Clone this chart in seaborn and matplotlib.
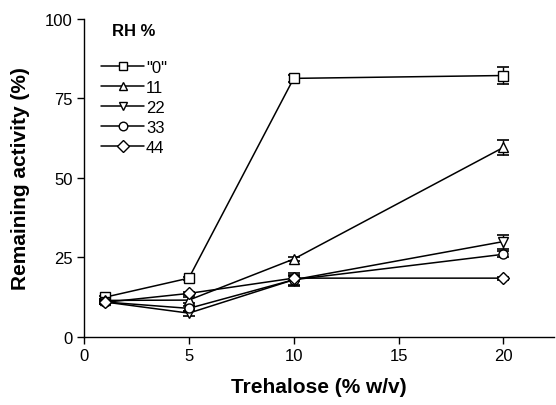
import pandas as pd
import numpy as np
import matplotlib.pyplot as plt
import seaborn as sns

sns.set_style("ticks")
plt.rcParams["font.family"] = ["Liberation Sans", "DejaVu Sans"]
plt.rcParams["text.color"] = "black"
plt.rcParams["axes.labelcolor"] = "black"
plt.rcParams["axes.edgecolor"] = "black"
plt.rcParams["xtick.color"] = "black"
plt.rcParams["ytick.color"] = "black"

trehalose = [1, 5, 10, 20]
rh_labels = ['"0"', "11", "22", "33", "44"]
activity = {
    '"0"': [12.5, 18.5, 81.3, 82.2],
    "11": [11.5, 11.6, 24.5, 59.6],
    "22": [11.0, 7.5, 18.0, 30.0],
    "33": [11.0, 9.0, 18.0, 26.0],
    "44": [10.9, 13.7, 18.5, 18.5],
}
errors = {
    '"0"': [0.5, 0.5, 1.2, 2.6],
    "11": [0.5, 1.0, 0.6, 2.3],
    "22": [0.5, 0.8, 1.5, 2.2],
    "33": [0.5, 0.8, 2.0, 1.0],
    "44": [0.5, 0.5, 0.8, 0.5],
}
marker_map = {'"0"': "s", "11": "^", "22": "v", "33": "o", "44": "D"}

rows = []
for rh in rh_labels:
    for x, y in zip(trehalose, activity[rh]):
        rows.append({"Trehalose": x, "Activity": y, "RH": rh})
df = pd.DataFrame(rows)

fig = plt.figure(figsize=(5.56, 4.06), dpi=100)
ax = fig.add_axes([0.151, 0.1675, 0.845, 0.7835])

for rh in rh_labels:
    ax.errorbar(trehalose, activity[rh], yerr=errors[rh], fmt="none",
                ecolor="black", elinewidth=1.0, capsize=4, capthick=1.2, zorder=2)

sns.lineplot(data=df, x="Trehalose", y="Activity", hue="RH", style="RH",
             hue_order=rh_labels, style_order=rh_labels,
             palette=["black"] * 5, markers=marker_map, dashes=False,
             markersize=6.5, markerfacecolor="white", markeredgecolor="black",
             markeredgewidth=1.0, linewidth=1.1, ax=ax, zorder=3)

ax.set_xlim(0, 22.4)
ax.set_ylim(0, 100)
ax.set_xticks([0, 5, 10, 15, 20])
ax.set_yticks([0, 25, 50, 75, 100])
ax.tick_params(labelsize=12, length=5, width=1.0, direction="out", pad=3)
for s in ["left", "bottom"]:
    ax.spines[s].set_linewidth(1.0)
sns.despine(ax=ax)

ax.set_xlabel("Trehalose (% w/v)", fontsize=15, fontweight="bold", labelpad=10)
ax.set_ylabel("Remaining activity (%)", fontsize=15, fontweight="bold", labelpad=11)

leg = ax.legend(title="RH %", loc="upper left", bbox_to_anchor=(0.015, 1.02),
                frameon=False, fontsize=12, handlelength=2.6, handletextpad=0.1,
                labelspacing=0.3, borderaxespad=0.2, markerscale=0.95)
leg.get_title().set_fontweight("bold")
leg.get_title().set_fontsize(12)
leg._legend_box.sep = 16

plt.savefig("out.png", dpi=100)
